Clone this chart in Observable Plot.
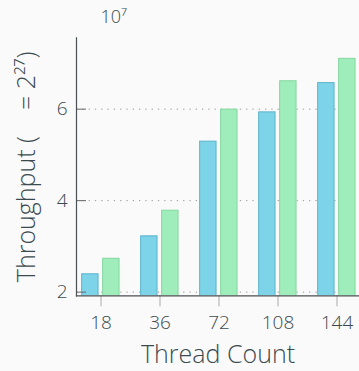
<!DOCTYPE html>
<html>
<head>
<meta charset="utf-8">
<script src="https://cdn.jsdelivr.net/npm/d3@7"></script>
<script src="https://cdn.jsdelivr.net/npm/@observablehq/plot@0.6"></script>
<style>
  html, body { margin: 0; padding: 0; background: #fafafa; overflow: hidden; }
  #chart svg { max-width: none; display: block; }
</style>
</head>
<body>
<div id="chart"></div>
<script>
const threads = ["18", "36", "72", "108", "144"];
const seriesA = [2.39, 3.22, 5.29, 5.93, 6.57];
const seriesB = [2.73, 3.78, 5.99, 6.61, 7.10];
const yTicks = [2, 4, 6];

const dataA = threads.map((t, i) => ({t, v: seriesA[i]}));
const dataB = threads.map((t, i) => ({t, v: seriesB[i]}));

const font = "'Open Sans', Lato, sans-serif";
const ink = "#3b4a50";

const chart = Plot.plot({
  width: 359,
  height: 371,
  marginLeft: 76,
  marginRight: 0,
  marginTop: 37.3,
  marginBottom: 75.7,
  style: {background: "#fafafa", fontFamily: font, color: ink, fontWeight: 300},
  x: {domain: threads, range: [70.35, 366.85], padding: 0, axis: null},
  y: {domain: [1.92, 7.56], axis: null},
  marks: [
    Plot.gridY(yTicks, {stroke: "#999", strokeOpacity: 1, strokeDasharray: "1.3,5", strokeWidth: 1}),
    Plot.barY(dataA, {x: "t", y: "v", clip: true, fill: "#7dd3e8", stroke: "#5db3cb", strokeWidth: 1, insetLeft: 10.65, insetRight: 31.95}),
    Plot.barY(dataB, {x: "t", y: "v", clip: true, fill: "#9eedbb", stroke: "#84d7a0", strokeWidth: 1, insetLeft: 31.65, insetRight: 10.95}),
    Plot.axisY(yTicks, {tickSize: -10, text: null, label: null, stroke: "#666", strokeWidth: 1}),
    Plot.axisY(yTicks, {tickSize: 0, tickPadding: 9, fontSize: 19, fill: ink, label: null}),
    Plot.axisX(threads, {tickSize: 11, tickPadding: 9, fontSize: 19, fill: ink, stroke: "#aaa", strokeOpacity: 1, label: null}),
    Plot.frame({anchor: "left", stroke: "#4a4f52", strokeWidth: 1.2}),
    Plot.frame({anchor: "bottom", stroke: "#4a4f52", strokeWidth: 1.2}),
    Plot.text(["Thread Count"], {frameAnchor: "bottom", dx: 0, dy: 67, fontSize: 25, fill: ink, textAnchor: "middle"}),
    Plot.text(["Throughput (    = 2²⁷)"], {frameAnchor: "left", rotate: -90, dx: -50, dy: 0, fontSize: 25, fill: ink, textAnchor: "middle"}),
    Plot.text(["10⁷"], {frameAnchor: "top-left", dx: 24, dy: -28, fontSize: 18, fill: ink, textAnchor: "start"})
  ]
});
document.getElementById("chart").appendChild(chart);
</script>
</body>
</html>
